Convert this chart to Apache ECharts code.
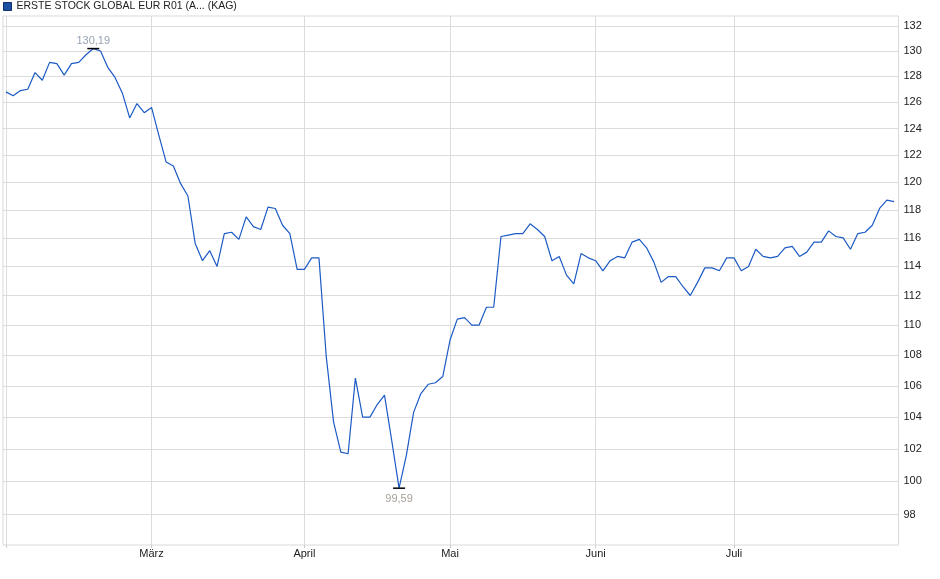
<!DOCTYPE html>
<html>
<head>
<meta charset="utf-8">
<script src="https://cdn.jsdelivr.net/npm/echarts@6/dist/echarts.min.js"></script>
<style>
html,body{margin:0;padding:0;background:#fff;}
#chart{width:940px;height:579px;}
</style>
</head>
<body>
<div id="chart"></div>
<script>
const seriesName = 'ERSTE STOCK GLOBAL EUR R01 (A... (KAG)';
// one value per trading day, 3 Feb 2025 .. 31 Jul 2025
const values = [
  126.8,126.5,126.9,127.0,128.3,127.7,129.1,129.0,128.1,129.0,129.1,129.7,130.19,130.0,128.7,127.9,126.7,124.8,125.9,125.2,
  125.6,123.5,121.5,121.2,119.9,119.0,115.6,114.4,115.1,114.0,116.3,116.4,115.9,117.5,116.8,116.6,118.2,118.1,116.9,116.3,113.8,
  113.8,114.6,114.6,107.9,103.7,101.8,101.7,106.5,104.0,104.0,104.8,105.4,102.5,99.59,101.6,104.3,105.5,106.1,106.2,106.6,
  109.0,110.4,110.5,110.0,110.0,111.2,111.2,116.1,116.2,116.3,116.3,117.0,116.6,116.1,114.4,114.7,113.4,112.8,114.9,114.6,
  114.4,113.7,114.4,114.7,114.6,115.7,115.9,115.3,114.3,112.9,113.3,113.3,112.6,112.0,112.9,113.9,113.9,113.7,114.6,
  114.6,113.7,114.0,115.2,114.7,114.6,114.7,115.3,115.4,114.7,115.0,115.7,115.7,116.5,116.1,116.0,115.2,116.3,116.4,116.9,118.1,118.7,118.6
];
const monthTicks = [0, 20, 41, 61, 81, 100];
const monthLabels = ['', 'März', 'April', 'Mai', 'Juni', 'Juli'];
const yTicks = [98,100,102,104,106,108,110,112,114,116,118,120,122,124,126,128,130,132];

const chart = echarts.init(document.getElementById('chart'));
const fontFamily = 'Liberation Sans, Arial, sans-serif';
chart.setOption({
  animation: false,
  textStyle: { fontFamily: fontFamily },
  legend: {
    left: 0, top: 0, padding: [1, 3],
    icon: 'rect', itemWidth: 8, itemHeight: 8, itemGap: 4,
    itemTextGap: 4,
    textStyle: { fontSize: 10.5, color: '#222', fontFamily: fontFamily },
    data: [{ name: seriesName, itemStyle: { color: '#1d4fa3', borderColor: '#0d2f70', borderWidth: 1 } }]
  },
  grid: { left: 3, right: 41.5, top: 16, bottom: 34, show: true, borderColor: '#d9d9d9', borderWidth: 1 },
  xAxis: {
    type: 'value', min: -0.4, max: 122.6,
    axisLine: { show: false },
    axisTick: { show: true, customValues: monthTicks, length: 3, lineStyle: { color: '#ccc' } },
    axisLabel: {
      customValues: monthTicks, margin: 3, fontSize: 11, color: '#222',
      formatter: function (v) { const k = monthTicks.indexOf(Math.round(v)); return k >= 0 ? monthLabels[k] : ''; }
    },
    splitLine: { show: true, lineStyle: { color: '#dcdcdc', width: 1 } }
  },
  yAxis: {
    type: 'log', position: 'right', min: 96.2, max: 132.8,
    axisLine: { show: false },
    axisTick: { show: false, customValues: yTicks },
    axisLabel: { customValues: yTicks, margin: 5, fontSize: 11, color: '#222' },
    splitLine: { show: true, lineStyle: { color: '#dcdcdc', width: 1 } }
  },
  series: [{
    name: seriesName,
    type: 'line',
    data: values.map((v, i) => [i, v]),
    showSymbol: false,
    symbol: 'none',
    lineStyle: { color: '#1c5ac4', width: 1.2 },
    itemStyle: { color: '#1c5ac4' },
    markPoint: {
      symbol: 'rect', symbolSize: [12, 1.5],
      itemStyle: { color: '#000' },
      data: [
        { type: 'max', valueDim: 'y', label: { position: 'top', distance: 1, color: '#97a2b4' } },
        { type: 'min', valueDim: 'y', label: { position: 'bottom', distance: 5, color: '#a9a096' } }
      ],
      label: {
        fontSize: 11,
        formatter: function (p) { return p.value.toFixed(2).replace('.', ','); }
      }
    }
  }]
});
</script>
</body>
</html>
